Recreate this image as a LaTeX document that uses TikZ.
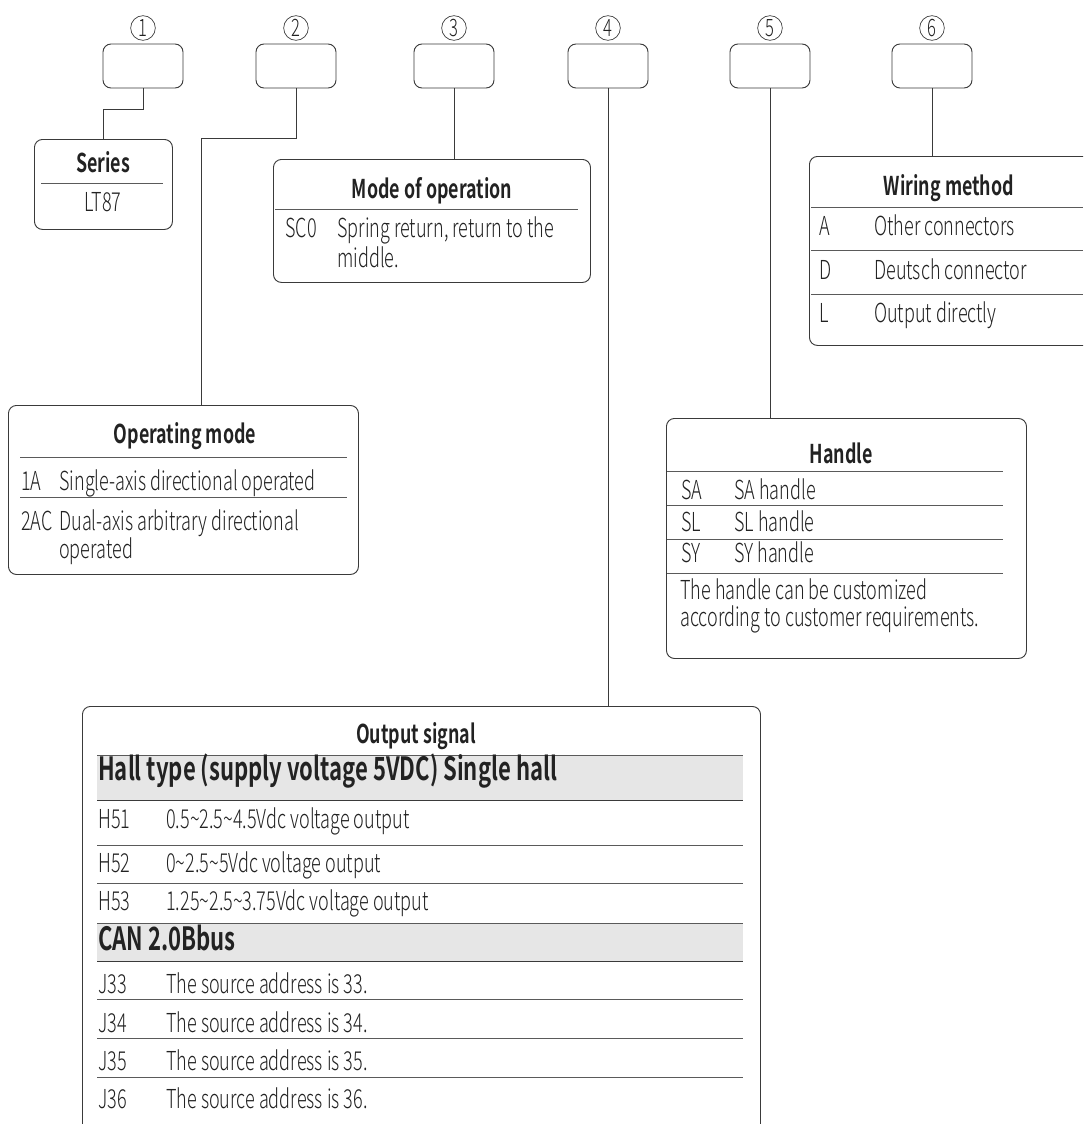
\documentclass[tikz,border=0pt]{standalone}
\usepackage{fontspec}
\setmainfont{Noto Sans CJK SC}[UprightFont={* Light},BoldFont={* Bold},FakeStretch=0.69]
\newcommand\txsz{\fontsize{19.6}{22}\selectfont}
\newcommand\ttsz{\fontsize{19.4}{22}\selectfont\bfseries}
\newcommand\bnsz{\fontsize{24}{26}\selectfont\bfseries}
\newcommand\dgsz{\fontsize{18}{18}\selectfont}
\definecolor{bord}{HTML}{3A3A3A}
\definecolor{rulec}{HTML}{5A5A5A}
\definecolor{txtc}{HTML}{222222}
\definecolor{band}{HTML}{E6E6E6}
\begin{document}
\begin{tikzpicture}[x=0.75pt,y=-0.75pt,
  keybox/.style={draw=bord,line width=0.7pt,rounded corners=6pt,minimum width=60pt,minimum height=33pt,inner sep=0pt},
  panel/.style={draw=bord,line width=0.7pt,rounded corners=6pt,anchor=north west,inner sep=0pt},
  numc/.style={circle,draw=bord,line width=0.5pt,minimum size=18.5pt,inner sep=0pt,font=\dgsz,text=txtc},
  conn/.style={draw=bord,line width=0.7pt},
  rule/.style={draw=rulec,line width=0.7pt},
  txt/.style={anchor=base west,inner sep=0pt,font=\txsz,text=txtc},
  txc/.style={anchor=base,inner sep=0pt,font=\txsz,text=txtc},
  ttl/.style={anchor=base,inner sep=0pt,font=\ttsz,text=txtc},
  bnd/.style={anchor=base west,inner sep=0pt,font=\bnsz,text=txtc}]
\useasboundingbox (0,0) rectangle (1083,1124);
\clip (0,0) rectangle (1083,1124);

% top key boxes and numbers
\foreach \i/\xx in {1/143,2/296,3/454,4/608,5/770,6/932}{
  \node[keybox] (b\i) at (\xx,66) {};
  \node[numc] (n\i) at (\xx,28) {\i};
}

% panels
\node[panel,minimum width=103.5pt,minimum height=67.5pt] (series) at (34,139) {};
\node[panel,minimum width=237.75pt,minimum height=92.25pt] (modeop) at (273,159) {};
\node[panel,minimum width=225pt,minimum height=141.75pt] (wiring) at (809,156) {};
\node[panel,minimum width=262.5pt,minimum height=126.75pt] (opmode) at (8,405) {};
\node[panel,minimum width=270pt,minimum height=180pt] (handle) at (666,418) {};
\node[panel,minimum width=508.5pt,minimum height=345pt] (outsig) at (82,706) {};

% connectors
\coordinate (c2) at (201,138);
\draw[conn] (b1.south) -- ++(0,21) -| (series.north);
\draw[conn] (b2.south) |- (c2) -- (c2 |- opmode.north);
\draw[conn] (b3.south) -- (b3.south |- modeop.north);
\draw[conn] (b4.south) -- (b4.south |- outsig.north);
\draw[conn] (b5.south) -- (b5.south |- handle.north);
\draw[conn] (b6.south) -- (b6.south |- wiring.north);

% Series
\node[ttl] (serT) at (103,172) {Series};
\draw[rule] (41,183) -- (163,183);
\node[txc] (serV) at (103,211) {LT87};

% Mode of operation
\node[ttl] (mopT) at (432,198) {Mode of operation};
\draw[rule] (275,209) -- (578,209);
\node[txt] (mopC) at (285,237) {SC0};
\node[txt] (mopD1) at (337,237) {Spring return, return to the};
\node[txt] (mopD2) at (337,267) {middle.};

% Wiring method
\node[ttl] (wirT) at (949,195) {Wiring method};
\draw[rule] (811,207) -- (1083,207);
\draw[rule] (811,250) -- (1083,250);
\draw[rule] (811,294) -- (1083,294);
\node[txt] (wirC1) at (819,235) {A};
\node[txt] (wirD1) at (874,235) {Other connectors};
\node[txt] (wirC2) at (819,279) {D};
\node[txt] (wirD2) at (874,279) {Deutsch connector};
\node[txt] (wirC3) at (819,322) {L};
\node[txt] (wirD3) at (874,322) {Output directly};

% Operating mode
\node[ttl] (opT) at (185,443) {Operating mode};
\draw[rule] (20,457) -- (347,457);
\draw[rule] (20,497) -- (347,497);
\node[txt] (opC1) at (21,490) {1A};
\node[txt] (opD1) at (59,490) {Single-axis directional operated};
\node[txt] (opC2) at (21,530) {2AC};
\node[txt] (opD2) at (59,530) {Dual-axis arbitrary directional};
\node[txt] (opD3) at (59,558) {operated};

% Handle
\node[ttl] (hdT) at (841,463) {Handle};
\draw[rule] (667,471) -- (1003,471);
\draw[rule] (667,505) -- (1003,505);
\draw[rule] (667,539) -- (1003,539);
\draw[rule] (667,573) -- (1003,573);
\node[txt] (hdC1) at (681,499) {SA};
\node[txt] (hdD1) at (734,499) {SA handle};
\node[txt] (hdC2) at (681,531) {SL};
\node[txt] (hdD2) at (734,531) {SL handle};
\node[txt] (hdC3) at (681,562) {SY};
\node[txt] (hdD3) at (734,562) {SY handle};
\node[txt] (hdN1) at (680,599) {The handle can be customized};
\node[txt] (hdN2) at (680,626) {according to customer requirements.};

% Output signal
\node[ttl] (osT) at (416,743) {Output signal};
\fill[band] (97,755) rectangle (743,800);
\draw[rule] (97,755) -- (743,755);
\draw[conn] (97,800) -- (743,800);
\node[bnd] (osB1) at (98,780) {Hall type (supply voltage 5VDC) Single hall};
\node[txt] (osC1) at (98,828) {H51};
\node[txt] (osD1) at (166,828) {0.5\textasciitilde2.5\textasciitilde4.5Vdc voltage output};
\draw[rule] (97,845) -- (743,845);
\node[txt] (osC2) at (98,872) {H52};
\node[txt] (osD2) at (166,872) {0\textasciitilde2.5\textasciitilde5Vdc voltage output};
\draw[rule] (97,883) -- (743,883);
\node[txt] (osC3) at (98,910) {H53};
\node[txt] (osD3) at (166,910) {1.25\textasciitilde2.5\textasciitilde3.75Vdc voltage output};
\fill[band] (97,923) rectangle (743,961);
\draw[rule] (97,923) -- (743,923);
\draw[conn] (97,961) -- (743,961);
\node[bnd] (osB2) at (98,950) {CAN 2.0Bbus};
\node[txt] (osC4) at (98,993) {J33};
\node[txt] (osD4) at (166,993) {The source address is 33.};
\draw[rule] (97,999) -- (743,999);
\node[txt] (osC5) at (98,1032) {J34};
\node[txt] (osD5) at (166,1032) {The source address is 34.};
\draw[rule] (97,1038) -- (743,1038);
\node[txt] (osC6) at (98,1070) {J35};
\node[txt] (osD6) at (166,1070) {The source address is 35.};
\draw[rule] (97,1077) -- (743,1077);
\node[txt] (osC7) at (98,1108) {J36};
\node[txt] (osD7) at (166,1108) {The source address is 36.};
\end{tikzpicture}
\end{document}
